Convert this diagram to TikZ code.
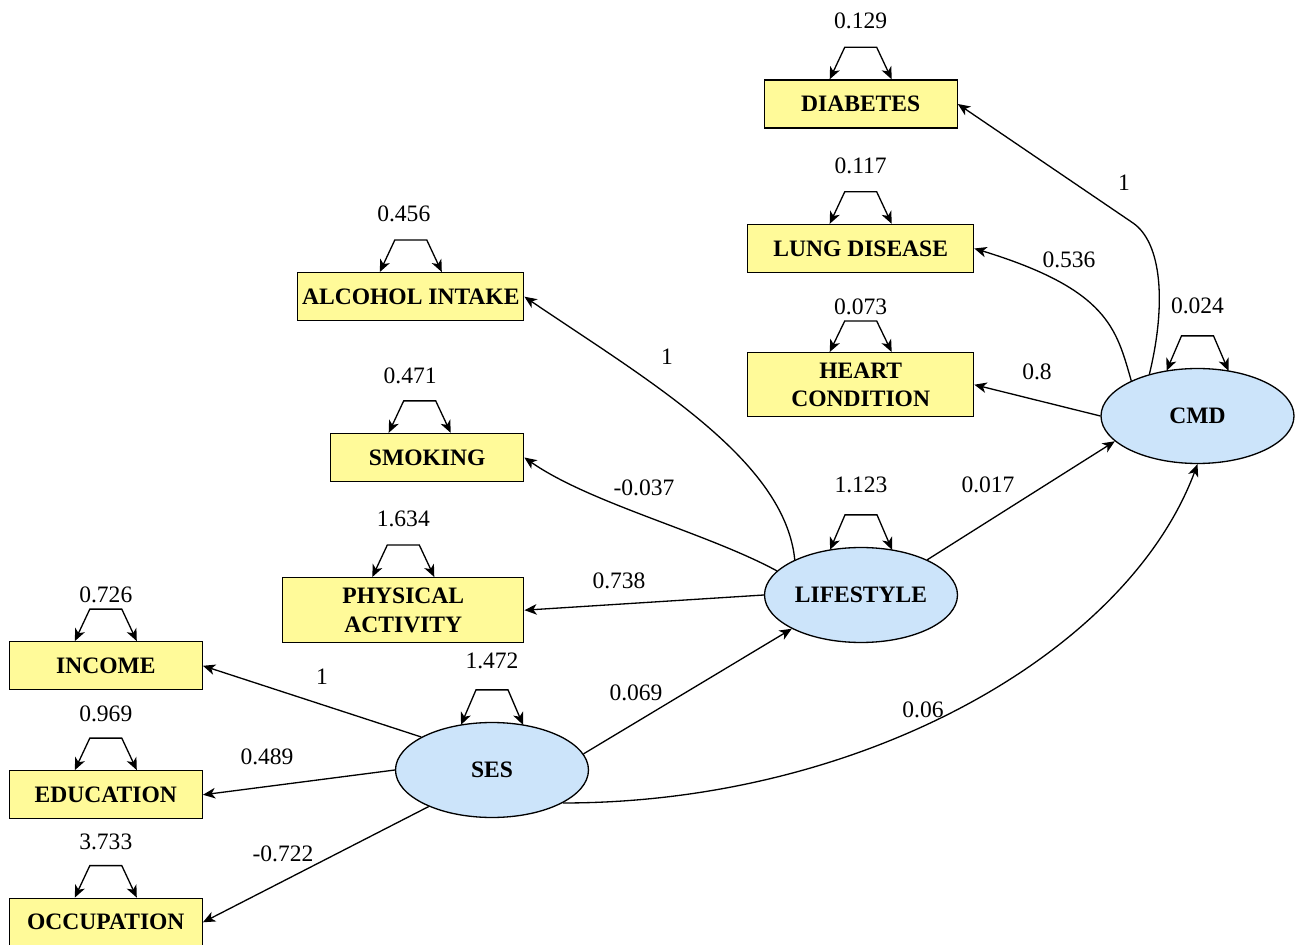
\documentclass[tikz,border=0pt]{standalone}
\usepackage{fontspec}
\setmainfont{Liberation Serif}
\usepackage{tikz}
\usetikzlibrary{arrows.meta, calc, shapes.geometric}

\definecolor{boxyellow}{RGB}{255,250,153}
\definecolor{latblue}{RGB}{204,228,250}

\begin{document}
\begin{tikzpicture}[x=0.02cm, y=-0.02cm, line width=0.75pt,
    >={Stealth[length=7pt,width=6pt,inset=2pt]},
    obs/.style = {draw, fill=boxyellow, inner sep=0pt, minimum height=0.96cm, align=center, font=\rmfamily\fontsize{13.4}{16.2}\selectfont\bfseries},
    lat/.style = {draw, ellipse, fill=latblue, inner sep=0pt, minimum width=3.86cm, minimum height=1.9cm, font=\rmfamily\fontsize{13.4}{16.2}\selectfont\bfseries},
    lbl/.style = {inner sep=0pt, font=\rmfamily\fontsize{13.4}{16.2}\selectfont}]
    \useasboundingbox (0,0) rectangle (1295,945);
    % observed variables
    \node[obs, minimum width=3.86cm] (dia) at (860.7,104) {DIABETES};
    \node[obs, minimum width=4.52cm] (lung) at (860.7,248.5) {LUNG DISEASE};
    \node[obs, minimum width=4.52cm, minimum height=1.28cm] (heart) at (860.7,384.7) {HEART\\CONDITION};
    \node[obs, minimum width=4.52cm] (alc) at (410.8,296.7) {ALCOHOL INTAKE};
    \node[obs, minimum width=3.86cm] (smok) at (427.2,457.5) {SMOKING};
    \node[obs, minimum width=4.82cm, minimum height=1.3cm] (phys) at (403.3,610.2) {PHYSICAL\\ACTIVITY};
    \node[obs, minimum width=3.86cm] (inc) at (105.8,665.8) {INCOME};
    \node[obs, minimum width=3.86cm] (edu) at (105.8,794.8) {EDUCATION};
    \node[obs, minimum width=3.86cm] (occ) at (105.8,922.3) {OCCUPATION};
    % latent variables
    \node[lat] (cmd) at (1197.5,416) {CMD};
    \node[lat] (life) at (861,595) {LIFESTYLE};
    \node[lat] (ses) at (492,770) {SES};
    \coordinate (bend) at (1133,223);
    % variances
    \draw[<->] ($(dia.north)+(-31,0)$) -- ++(15,-32) -- ++(32,0) -- ++(15,32);
    \node[lbl] (v1) at ($(dia.north)+(0,-59)$) {0.129};
    \draw[<->] ($(lung.north)+(-31,0)$) -- ++(15,-32) -- ++(32,0) -- ++(15,32);
    \node[lbl] (v2) at ($(lung.north)+(0,-58)$) {0.117};
    \draw[<->] ($(heart.north)+(-31,0)$) -- ++(15,-31) -- ++(32,0) -- ++(15,31);
    \node[lbl] (v3) at ($(heart.north)+(0,-45)$) {0.073};
    \draw[<->] ($(alc.north)+(-31,0)$) -- ++(15,-32) -- ++(32,0) -- ++(15,32);
    \node[lbl] (v4) at ($(alc.north)+(-7,-58)$) {0.456};
    \draw[<->] ($(smok.north)+(-38.5,0)$) -- ++(15,-32) -- ++(32,0) -- ++(15,32);
    \node[lbl] (v5) at ($(smok.north)+(-17,-57)$) {0.471};
    \draw[<->] ($(phys.north)+(-31,0)$) -- ++(15,-32) -- ++(32,0) -- ++(15,32);
    \node[lbl] (v6) at ($(phys.north)+(0,-58)$) {1.634};
    \draw[<->] ($(inc.north)+(-31,0)$) -- ++(15,-32) -- ++(32,0) -- ++(15,32);
    \node[lbl] (v7) at ($(inc.north)+(0,-46)$) {0.726};
    \draw[<->] ($(edu.north)+(-31,0)$) -- ++(15,-32) -- ++(32,0) -- ++(15,32);
    \node[lbl] (v8) at ($(edu.north)+(0,-56)$) {0.969};
    \draw[<->] ($(occ.north)+(-31,0)$) -- ++(15,-32) -- ++(32,0) -- ++(15,32);
    \node[lbl] (v9) at ($(occ.north)+(0,-56)$) {3.733};
    \draw[<->] ($(cmd.north)+(-31,3)$) -- ++(15,-35) -- ++(32,0) -- ++(15,35);
    \node[lbl] (v10) at ($(cmd.north)+(0,-62)$) {0.024};
    \draw[<->] ($(life.north)+(-31,3)$) -- ++(15,-35) -- ++(32,0) -- ++(15,35);
    \node[lbl] (v11) at ($(life.north)+(0,-62)$) {1.123};
    \draw[<->] ($(ses.north)+(-31,3)$) -- ++(15,-35) -- ++(32,0) -- ++(15,35);
    \node[lbl] (v12) at ($(ses.north)+(0,-61)$) {1.472};
    % paths
    \draw[->] (cmd.139) .. controls +(17,-70) and +(29,20) .. (bend) -- (dia.east);
    \draw[->] (cmd.152) .. controls +(-15,-52) and +(134,41) .. (lung.east);
    \draw[->] (cmd.west) -- (heart.east);
    \draw[->] (life.28) -- (cmd.197);
    \draw[->] (ses.335) .. controls +(300,0) and +(-70,188) .. (cmd.south);
    \draw[->] (life.152) .. controls +(-10,-100) and +(124,84) .. (alc.east);
    \draw[->] (life.164) .. controls +(-70,-38) and +(66,46) .. (smok.east);
    \draw[->] (life.west) -- (phys.east);
    \draw[->] (ses.10) -- (life.206);
    \draw[->] (ses.155) -- (inc.east);
    \draw[->] (ses.west) -- (edu.east);
    \draw[->] (ses.210) -- (occ.east);
    % estimates
    \node[lbl] (w1) at (1124,183) {1};
    \node[lbl] (w2) at (1069,260) {0.536};
    \node[lbl] (w3) at (1037,372) {0.8};
    \node[lbl] (w4) at (988,485) {0.017};
    \node[lbl] (w5) at (923,710) {0.06};
    \node[lbl] (w6) at (667,357) {1};
    \node[lbl] (w7) at (644,488) {-0.037};
    \node[lbl] (w8) at (619,581) {0.738};
    \node[lbl] (w9) at (636,693) {0.069};
    \node[lbl] (w10) at (322,677) {1};
    \node[lbl] (w11) at (267,757) {0.489};
    \node[lbl] (w12) at (283,854) {-0.722};
\end{tikzpicture}
\end{document}
